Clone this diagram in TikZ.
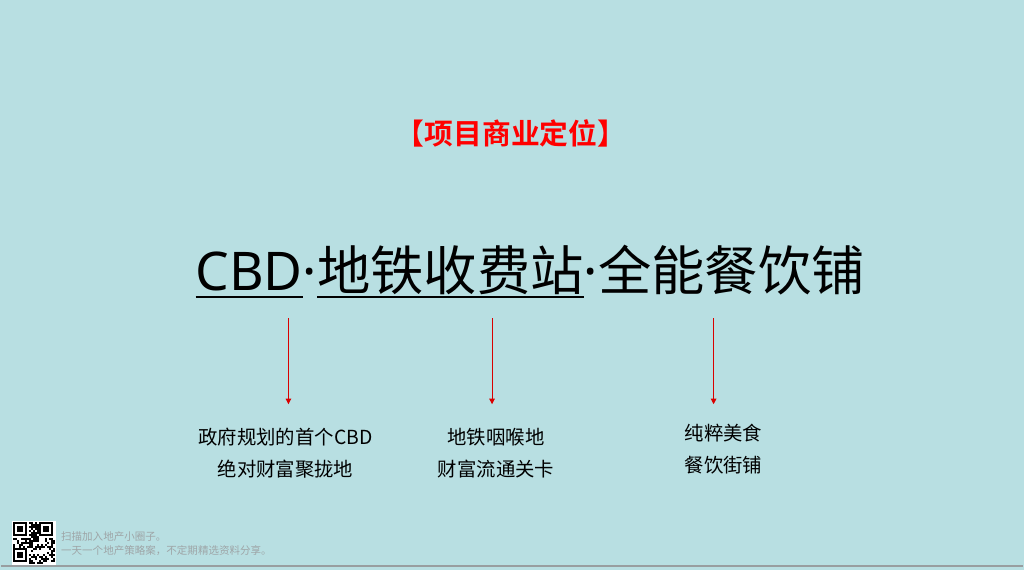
\documentclass[tikz,border=0pt]{standalone}
\usepackage{fontspec}
\setmainfont{Noto Sans CJK SC}[BoldFont={Noto Sans CJK SC Bold}]
\newfontfamily\latinfont{Noto Sans}
\usetikzlibrary{arrows.meta,positioning}

\definecolor{slidebg}{HTML}{B8DFE2}
\definecolor{notegray}{HTML}{9EA5A7}
\definecolor{rulegray}{HTML}{989EA0}

\begin{document}
\begin{tikzpicture}[x=0.025cm,y=-0.025cm,
    headline/.style={inner sep=0pt,outer sep=0pt,font=\fontsize{38}{44}\selectfont},
    point/.style={align=center,font=\fontsize{13.8}{23.4}\selectfont},
    note/.style={anchor=west,inner sep=0pt,text=notegray,font=\fontsize{7.5}{8}\selectfont},
    pointer/.style={red!85!black,line width=0.6pt,-{Triangle[length=4pt,width=4pt]}}]
    % Slide size in px
    \def\W{1024}
    \def\H{569}

    % ---- Background ----
    \fill[slidebg] (-1,-1) rectangle (\W+1,\H+1);
    \useasboundingbox (0,0) rectangle (\W,\H);
    \draw[rulegray,line width=1.2pt] (0,566) -- (\W,566);

    % ---- Heading ----
    \node[text=red,font=\fontsize{20.5}{24}\selectfont\bfseries] (heading) at (511,133) {【项目商业定位】};

    % ---- Main line ----
    \node[headline,anchor=base west] (cbd) at (195,290) {\latinfont CBD};
    \node[headline,anchor=base west] (dotA) at (cbd.base east) {\latinfont ·};
    \node[headline,anchor=base west] (metro) at (dotA.base east) {地铁收费站};
    \node[headline,anchor=base west] (dotB) at (metro.base east) {\latinfont ·};
    \node[headline,anchor=base west] (diner) at (dotB.base east) {全能餐饮铺};
    % underlines
    \draw[line width=1.4pt] (cbd.west |- 0,297) -- (cbd.east |- 0,297);
    \draw[line width=1.4pt] (metro.west |- 0,297) -- (metro.east |- 0,297);

    % ---- Points ----
    \node[point] (hub) at (285,453) {政府规划的首个CBD\\绝对财富聚拢地};
    \node[point] (gate) at (496,453) {地铁咽喉地\\财富流通关卡};
    \node[point] (food) at (724,449) {纯粹美食\\餐饮街铺};

    % arrows
    \coordinate (sA) at (288,318);
    \coordinate (sB) at (492,318);
    \coordinate (sC) at (714,318);
    \coordinate (eA) at (288,404);
    \coordinate (eB) at (492,404);
    \coordinate (eC) at (714,404);
    \draw[pointer] (sA) -- (eA);
    \draw[pointer] (sB) -- (eB);
    \draw[pointer] (sC) -- (eC);

    % ---- Footer ----
    \fill[white] (11,521) rectangle (55,565);
    \pgfmathsetseed{17}
    \foreach \i in {0,...,20}{
      \foreach \j in {0,...,20}{
        \pgfmathtruncatemacro\infinder{(\i<8 && \j<8) || (\i>12 && \j<8) || (\i<8 && \j>12)}
        \pgfmathtruncatemacro\on{rnd>0.5}
        \ifnum\infinder=0
          \ifnum\on=1
            \fill[black] (12+2*\i,522+2*\j) rectangle ++(2,2);
          \fi
        \fi
      }
    }
    % finder squares
    \foreach \fx/\fy in {12/522, 38/522, 12/548}{
      \fill[black] (\fx,\fy) rectangle ++(14,14);
      \fill[white] (\fx+2,\fy+2) rectangle ++(10,10);
      \fill[black] (\fx+4,\fy+4) rectangle ++(6,6);
    }
    \node[note] (noteA) at (60,537) {扫描加入地产小圈子。};
    \node[note] (noteB) at (60,551) {一天一个地产策略案，不定期精选资料分享。};
\end{tikzpicture}
\end{document}
